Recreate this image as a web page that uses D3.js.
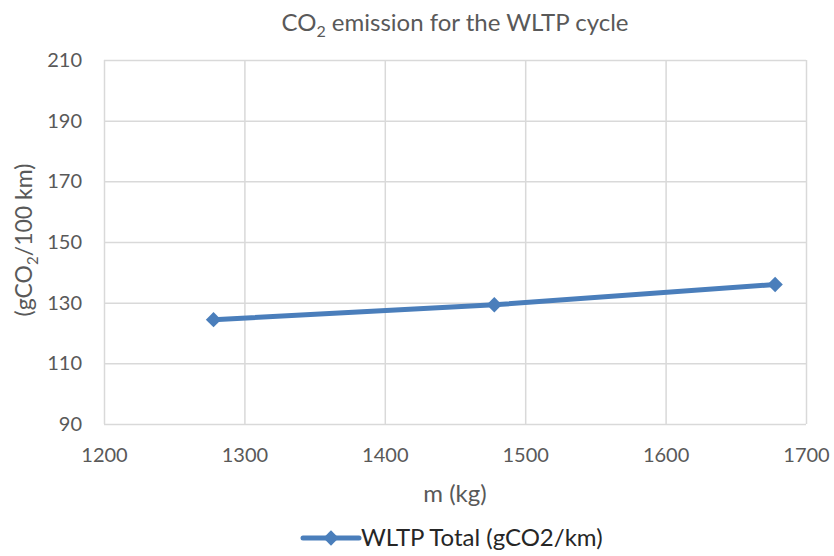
<!DOCTYPE html>
<html>
<head>
<meta charset="utf-8">
<script src="https://cdn.jsdelivr.net/npm/d3@7"></script>
<style>
  html, body { margin: 0; padding: 0; background: #fff; }
  svg { display: block; }
  text { font-family: Lato, "Open Sans", sans-serif; }
</style>
</head>
<body>
<svg id="chart" width="834" height="556"></svg>
<script>
// Vehicle mass (kg) and WLTP CO2 emission (g/km)
const massKg = [1278, 1478, 1678];
const co2Wltp = [124.4, 129.3, 136.0];
const seriesName = "WLTP Total (gCO2/km)";
const xTicks = [1200, 1300, 1400, 1500, 1600, 1700];
const yTicks = [90, 110, 130, 150, 170, 190, 210];

const svg = d3.select("#chart");
const plot = { left: 104, right: 806, top: 60, bottom: 424 };
const blue = "#4a7ebb";
const grid = "#d9d9d9";
const labelColor = "#595959";

const x = d3.scaleLinear().domain([1200, 1700]).range([plot.left, plot.right]);
const y = d3.scaleLinear().domain([90, 210]).range([plot.bottom, plot.top]);

// Gridlines (vertical and horizontal) with tick labels
const xAxis = d3.axisBottom(x).tickValues(xTicks).tickSize(-(plot.bottom - plot.top)).tickPadding(24).tickFormat(d3.format("d"));
const yAxis = d3.axisLeft(y).tickValues(yTicks).tickSize(-(plot.right - plot.left)).tickPadding(22).tickFormat(d3.format("d"));

const gx = svg.append("g").attr("transform", `translate(0,${plot.bottom})`).call(xAxis);
const gy = svg.append("g").attr("transform", `translate(${plot.left},0)`).call(yAxis);

[gx, gy].forEach(g => {
  g.select(".domain").remove();
  g.selectAll(".tick line").attr("stroke", grid).attr("stroke-width", 1.5);
  g.selectAll(".tick text").attr("fill", labelColor).style("font-size", "20px");
});

// Series line and diamond markers
const line = d3.line().x((d, i) => x(massKg[i])).y(d => y(d));
svg.append("path")
  .datum(co2Wltp)
  .attr("d", line)
  .attr("fill", "none")
  .attr("stroke", blue)
  .attr("stroke-width", 5)
  .attr("stroke-linejoin", "round");

const diamond = d3.symbol().type(d3.symbolDiamond2).size(150);
svg.selectAll(".marker")
  .data(co2Wltp)
  .join("path")
  .attr("class", "marker")
  .attr("d", diamond)
  .attr("transform", (d, i) => `translate(${x(massKg[i])},${y(d)})`)
  .attr("fill", blue);

// Title
const title = svg.append("text")
  .attr("x", 455).attr("y", 31)
  .attr("text-anchor", "middle")
  .attr("fill", labelColor)
  .style("font-size", "24px");
title.append("tspan").text("CO");
title.append("tspan").attr("dy", 6).style("font-size", "16px").text("2");
title.append("tspan").attr("dy", -6).text(" emission for the WLTP cycle");

// Axis titles
svg.append("text")
  .attr("x", 455).attr("y", 502)
  .attr("text-anchor", "middle")
  .attr("fill", labelColor)
  .style("font-size", "24px")
  .text("m (kg)");

const yTitle = svg.append("text")
  .attr("transform", "translate(32,240) rotate(-90)")
  .attr("text-anchor", "middle")
  .attr("fill", labelColor)
  .style("font-size", "23px");
yTitle.append("tspan").text("(gCO");
yTitle.append("tspan").attr("dy", 6).style("font-size", "15px").text("2");
yTitle.append("tspan").attr("dy", -6).text("/100 km)");

// Legend
const lg = svg.append("g").attr("transform", "translate(303,538)");
lg.append("line").attr("x1", 0).attr("x2", 56).attr("y1", 0).attr("y2", 0)
  .attr("stroke", blue).attr("stroke-width", 5).attr("stroke-linecap", "round");
lg.append("path").attr("d", diamond).attr("transform", "translate(28,0)").attr("fill", blue);
lg.append("text").attr("x", 58).attr("y", 0).attr("dy", "0.35em")
  .attr("fill", "#262626")
  .style("font-size", "24px")
  .text(seriesName);
</script>
</body>
</html>
